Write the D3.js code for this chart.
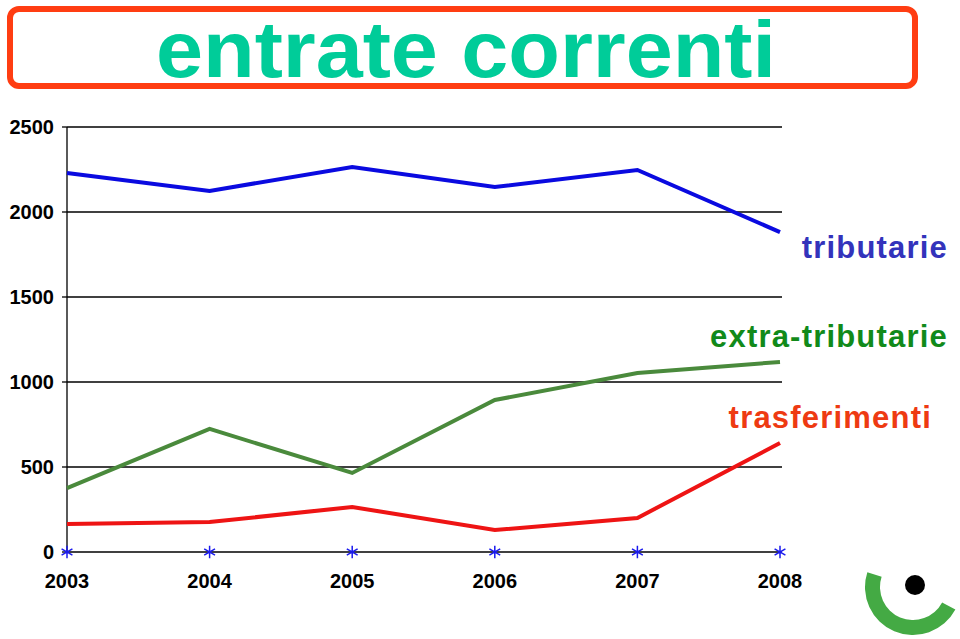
<!DOCTYPE html>
<html><head><meta charset="utf-8">
<script src="https://cdn.jsdelivr.net/npm/d3@7"></script>
<style>body{margin:0;background:#fff}svg{display:block}</style>
</head><body>
<svg id="c" width="960" height="639"></svg>
<script>
const years = ["2003","2004","2005","2006","2007","2008"];
const yTicks = [0,500,1000,1500,2000,2500];
const tributarie = [2229,2124,2265,2147,2247,1882];
const extraTributarie = [376,724,465,894,1053,1118];
const trasferimenti = [165,176,265,129,200,641];
const seriesNames = ["tributarie","extra-tributarie","trasferimenti"];
const titleText = "entrate correnti";

const svg = d3.select("#c");
const x = d3.scalePoint().domain(years).range([67,780]);
const y = d3.scaleLinear().domain([0,2500]).range([552,127]);

// title box
svg.append("rect").attr("x",10).attr("y",9).attr("width",905).attr("height",77)
  .attr("rx",9).attr("fill","#fff").attr("stroke","#ff3d12").attr("stroke-width",6);
svg.append("text").attr("x",466).attr("y",77).attr("text-anchor","middle")
  .attr("font-family","'Liberation Sans',Arial,sans-serif").attr("font-weight","bold")
  .attr("font-size",79).attr("fill","#00cc99").attr("textLength",620).attr("lengthAdjust","spacingAndGlyphs")
  .text(titleText);

// grid
svg.append("g").selectAll("line").data(yTicks).join("line")
  .attr("x1",67).attr("x2",782).attr("y1",d=>y(d)).attr("y2",d=>y(d))
  .attr("stroke","#000").attr("stroke-width",1.3);
svg.append("line").attr("x1",67).attr("x2",67).attr("y1",127).attr("y2",552).attr("stroke","#000").attr("stroke-width",1.3);
svg.append("g").selectAll("line").data(yTicks).join("line")
  .attr("x1",62).attr("x2",67).attr("y1",d=>y(d)).attr("y2",d=>y(d)).attr("stroke","#000").attr("stroke-width",1.3);
svg.append("g").selectAll("text").data(yTicks).join("text")
  .attr("x",54).attr("y",d=>y(d)+7).attr("text-anchor","end")
  .attr("font-family","'Liberation Sans',Arial,sans-serif").attr("font-weight","bold").attr("font-size",20)
  .attr("fill","#000").text(d=>d);
svg.append("g").selectAll("text").data(years).join("text")
  .attr("x",d=>x(d)).attr("y",588).attr("text-anchor","middle")
  .attr("font-family","'Liberation Sans',Arial,sans-serif").attr("font-weight","bold").attr("font-size",20)
  .attr("fill","#000").text(d=>d);

// lines
const line = d3.line().x((d,i)=>x(years[i])).y(d=>y(d));
const seriesData = [tributarie, extraTributarie, trasferimenti];
const lineColors = ["#0a0ae0","#4a8a3c","#ee1414"];
svg.append("g").selectAll("path").data(seriesData).join("path")
  .attr("d",line).attr("fill","none").attr("stroke",(d,i)=>lineColors[i])
  .attr("stroke-width",4).attr("stroke-linejoin","miter");

// asterisks
const sym = d3.symbol().type(d3.symbolAsterisk).size(110);
svg.append("g").selectAll("path").data(years).join("path")
  .attr("transform",d=>`translate(${x(d)},${y(0)})`).attr("d",sym())
  .attr("fill","none").attr("stroke","#1a1aee").attr("stroke-width",1.5);

// labels
const labelColors = ["#3333bb","#118a1a","#ee3a12"];
const labelPos = [[948,258],[948,347],[932,428]];
svg.append("g").selectAll("text").data(seriesNames).join("text")
  .attr("x",(d,i)=>labelPos[i][0]).attr("y",(d,i)=>labelPos[i][1]).attr("text-anchor","end")
  .attr("font-family","'Liberation Sans',Arial,sans-serif").attr("font-weight","bold").attr("font-size",31)
  .attr("letter-spacing",1.2).attr("fill",(d,i)=>labelColors[i]).text(d=>d);

// logo
const arc = d3.arc().innerRadius(33).outerRadius(48).startAngle(118*Math.PI/180).endAngle(288*Math.PI/180);
svg.append("path").attr("transform","translate(913,587)").attr("d",arc()).attr("fill","#44aa44");
svg.append("circle").attr("cx",915).attr("cy",585).attr("r",10).attr("fill","#000");
</script>
</body></html>
